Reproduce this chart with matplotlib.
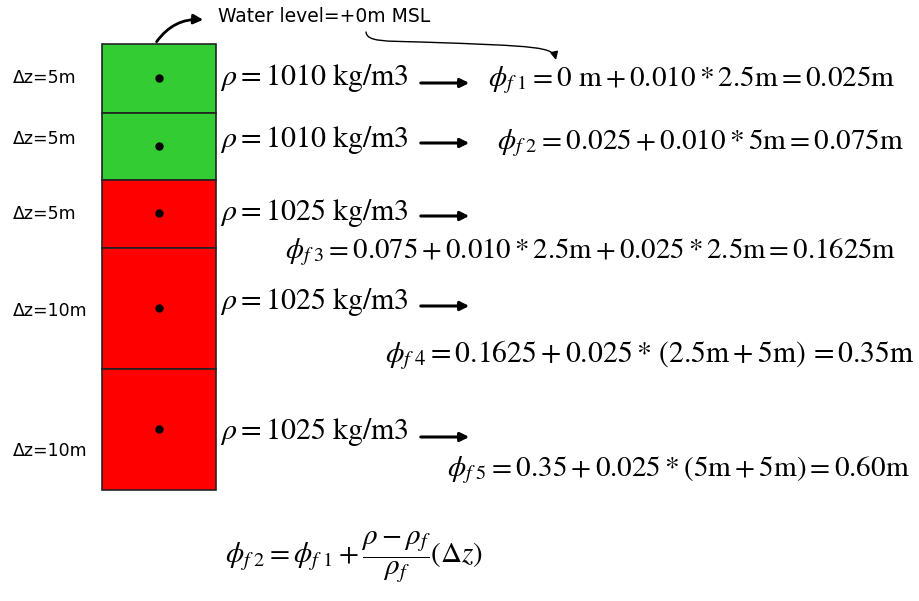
import matplotlib
matplotlib.use("Agg")
import matplotlib.pyplot as plt
from matplotlib.path import Path
from matplotlib.patches import FancyArrowPatch

plt.rcParams['mathtext.fontset'] = 'stix'

# layer data
layer_dz = [5, 5, 5, 10, 10]
layer_rho = [1010, 1010, 1025, 1025, 1025]
dz_labels = ["\u0394z=5m", "\u0394z=5m", "\u0394z=5m", "\u0394z=10m", "\u0394z=10m"]
phi_texts = [
    r"$\phi_{f\ 1} = 0\ \mathrm{m} + 0.010 * 2.5\mathrm{m} = 0.025\mathrm{m}$",
    r"$\phi_{f\ 2} = 0.025 + 0.010 * 5\mathrm{m} = 0.075\mathrm{m}$",
    r"$\phi_{f\ 3} = 0.075 + 0.010 * 2.5\mathrm{m} + 0.025 * 2.5\mathrm{m} = 0.1625\mathrm{m}$",
    r"$\phi_{f\ 4} = 0.1625 + 0.025 *\, (2.5\mathrm{m} + 5\mathrm{m})\, = 0.35\mathrm{m}$",
    r"$\phi_{f\ 5} = 0.35 + 0.025 * (5\mathrm{m} + 5\mathrm{m}) = 0.60\mathrm{m}$",
]
general_formula = r"$\phi_{f\ 2} = \phi_{f\ 1} + \dfrac{\rho - \rho_f}{\rho_f}(\Delta z)$"

# layout (pixel space of the drawing)
edges = [44, 113, 180, 248, 369, 490]
box_x, box_w = 102, 114
dz_y = [78, 139, 214, 311, 451]
rho_y = [78, 140, 213, 302, 432]
arrow_y = [83, 143, 216, 306, 437]
phi_xy = [(488, 80), (497, 143), (285, 252), (385, 355), (447, 470)]
phi_size = [21, 21, 20.7, 21.3, 21]

fig = plt.figure(figsize=(9.19, 6.01), dpi=100)
ax = fig.add_axes([0, 0, 1, 1])
ax.set_xlim(0, 919)
ax.set_ylim(601, 0)
ax.axis('off')

colors = ['#33cc33' if r < 1020 else '#ff0000' for r in layer_rho]
for i in range(len(layer_dz)):
    top, bot = edges[i], edges[i + 1]
    ax.bar(box_x + box_w / 2, bot - top, width=box_w, bottom=top,
           color=colors[i], edgecolor='#222222', linewidth=1.2)
    ax.plot(box_x + box_w / 2, (top + bot) / 2 - 1, 'o', color='black', markersize=5)
    ax.text(13, dz_y[i], dz_labels[i], fontsize=12.5, va='center', ha='left', family='DejaVu Sans')
    ax.text(220, rho_y[i], r"$\rho = %d\,\,\mathrm{kg/m3}$" % layer_rho[i],
            fontsize=21.5, va='center', ha='left')
    ax.annotate('', xy=(472, arrow_y[i]), xytext=(418, arrow_y[i]),
                arrowprops=dict(arrowstyle='-|>', color='black', lw=2.2, mutation_scale=13))
    ax.text(phi_xy[i][0], phi_xy[i][1], phi_texts[i], fontsize=phi_size[i], va='center', ha='left')

ax.text(218, 17, "Water level=+0m MSL", fontsize=13.5, va='center', ha='left', family='DejaVu Sans')
ax.annotate('', xy=(206, 20), xytext=(155, 44),
            arrowprops=dict(arrowstyle='-|>', color='black', lw=2, mutation_scale=14,
                            connectionstyle='arc3,rad=-0.3'))

# thin curved pointer from the water level text to phi_f1
wl_path = Path([(366, 32), (367, 42), (385, 41), (420, 42),
                (540, 46), (553, 47), (556, 60)],
               [Path.MOVETO, Path.CURVE4, Path.CURVE4, Path.CURVE4,
                Path.CURVE4, Path.CURVE4, Path.CURVE4])
ax.add_patch(FancyArrowPatch(path=wl_path, arrowstyle='-|>', color='black',
                             lw=1, mutation_scale=12))

ax.text(225, 557, general_formula, fontsize=21, va='center', ha='left')

fig.savefig('out.png', dpi=100)
